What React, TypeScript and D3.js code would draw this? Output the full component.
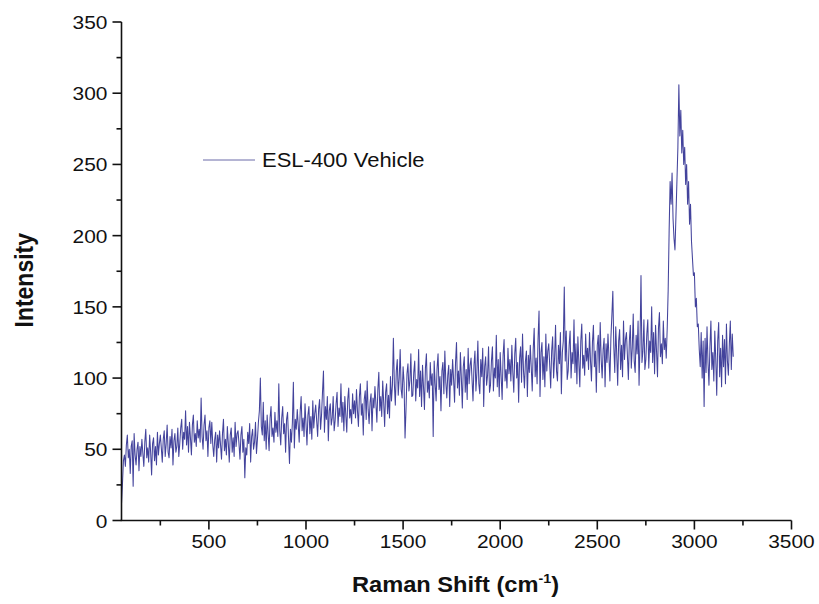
import React from "react";
import * as d3 from "d3";

// Raman spectrum sampled every 5 cm-1 starting at 50 cm-1
const shiftStart = 50;
const shiftStep = 5;
const intensity: number[] = [
  // 50-145
  12, 26, 42, 46, 38, 53, 60, 44, 50, 33, 52, 56, 24, 61, 46, 39, 50, 55, 35, 52,
  // 150-245
  45, 57, 47, 38, 55, 64, 44, 51, 41, 60, 48, 32, 54, 58, 42, 52, 39, 62, 46, 54,
  // 250-345
  60, 51, 41, 57, 63, 45, 54, 67, 48, 44, 59, 51, 64, 39, 56, 61, 48, 52, 65, 45,
  // 350-445
  54, 65, 71, 50, 62, 57, 77, 53, 66, 48, 69, 58, 46, 67, 74, 55, 61, 52, 70, 58,
  // 450-545
  64, 55, 86, 59, 50, 67, 74, 56, 63, 45, 65, 70, 54, 69, 53, 45, 57, 62, 41, 60,
  // 550-645
  51, 63, 53, 43, 61, 71, 49, 57, 46, 66, 54, 41, 60, 65, 48, 58, 45, 69, 52, 61,
  // 650-745
  63, 54, 43, 60, 66, 48, 57, 30, 51, 46, 62, 54, 68, 41, 59, 64, 50, 55, 69, 47,
  // 750-845
  57, 69, 77, 100, 66, 60, 83, 56, 70, 50, 74, 61, 49, 72, 80, 59, 65, 55, 76, 62,
  // 850-945
  70, 59, 96, 63, 53, 72, 80, 61, 68, 48, 71, 76, 58, 40, 64, 55, 69, 97, 51, 71,
  // 950-1045
  64, 78, 67, 55, 76, 87, 63, 72, 59, 82, 68, 53, 74, 80, 61, 73, 57, 84, 65, 75,
  // 1050-1145
  81, 70, 59, 78, 85, 64, 74, 90, 105, 62, 80, 71, 87, 56, 77, 82, 67, 72, 87, 63,
  // 1150-1245
  70, 82, 90, 66, 79, 73, 96, 69, 83, 63, 87, 74, 62, 85, 93, 72, 78, 68, 89, 75,
  // 1250-1345
  84, 72, 92, 77, 66, 87, 96, 74, 82, 60, 85, 91, 71, 98, 78, 68, 83, 89, 63, 86,
  // 1350-1445
  79, 94, 82, 69, 92, 104, 77, 87, 73, 98, 83, 66, 90, 96, 75, 88, 72, 101, 84, 95,
  // 1450-1545
  128, 96, 81, 105, 113, 88, 100, 120, 92, 86, 108, 97, 58, 78, 103, 110, 91, 98, 117, 87,
  // 1550-1645
  88, 104, 112, 84, 99, 93, 120, 87, 105, 80, 109, 94, 78, 107, 117, 90, 98, 86, 111, 95,
  // 1650-1745
  103, 59, 112, 96, 84, 107, 117, 92, 101, 77, 105, 111, 89, 119, 97, 86, 102, 109, 80, 106,
  // 1750-1845
  95, 113, 99, 83, 111, 125, 93, 105, 88, 118, 100, 79, 108, 115, 90, 106, 85, 121, 96, 109,
  // 1850-1945
  114, 99, 84, 109, 119, 91, 104, 126, 96, 89, 113, 101, 121, 80, 108, 115, 95, 102, 122, 90,
  // 1950-2045
  95, 112, 122, 91, 107, 100, 130, 94, 113, 87, 118, 101, 85, 116, 127, 98, 106, 93, 121, 103,
  // 2050-2145
  113, 98, 123, 104, 90, 117, 128, 100, 111, 83, 114, 122, 97, 131, 105, 93, 112, 119, 87, 116,
  // 2150-2245
  104, 123, 107, 91, 120, 135, 101, 114, 96, 128, 147, 87, 118, 125, 99, 115, 94, 131, 105, 119,
  // 2250-2345
  124, 109, 93, 119, 129, 100, 114, 137, 105, 98, 123, 110, 132, 89, 118, 126, 164, 112, 133, 99,
  // 2350-2445
  105, 123, 133, 100, 118, 110, 141, 104, 124, 96, 129, 111, 94, 126, 138, 107, 116, 102, 131, 112,
  // 2450-2545
  121, 106, 132, 112, 98, 125, 137, 108, 119, 90, 123, 130, 104, 139, 113, 100, 120, 128, 94, 124,
  // 2550-2645
  111, 131, 115, 98, 128, 144, 161, 122, 104, 136, 117, 95, 126, 134, 106, 123, 101, 140, 113, 127,
  // 2650-2745
  132, 116, 99, 126, 137, 107, 121, 145, 112, 104, 130, 117, 140, 95, 125, 172, 111, 119, 141, 106,
  // 2750-2845
  113, 131, 141, 107, 126, 118, 150, 111, 132, 103, 137, 119, 101, 135, 146, 115, 124, 110, 140, 120,
  // 2850-2945 (C-H stretching band)
  128, 114, 135, 162, 204, 238, 222, 244, 212, 198, 190, 214, 238, 262, 306, 270, 288, 258, 274, 250,
  // 2950-3045
  262, 236, 250, 222, 238, 208, 222, 196, 184, 172, 174, 150, 156, 136, 138, 120, 108, 132, 100, 126,
  // 3050-3145
  80, 128, 104, 136, 111, 95, 122, 140, 106, 118, 98, 133, 113, 88, 126, 139, 101, 121, 94, 130,
  // 3150-3200
  108, 127, 96, 138, 112, 102, 124, 140, 106, 131, 115,
];

const xMajorTicks = [500, 1000, 1500, 2000, 2500, 3000, 3500];
const xMinorTicks = [250, 750, 1250, 1750, 2250, 2750, 3250];
const yMajorTicks = [0, 50, 100, 150, 200, 250, 300, 350];
const yMinorTicks = [25, 75, 125, 175, 225, 275, 325];

const seriesName = "ESL-400 Vehicle";

const W = 819;
const H = 604;
const left = 121.5;
const right = 791.5;
const top = 22;
const bottom = 520.5;
const FONT = "Arial, 'Liberation Sans', Helvetica, sans-serif";
const STRETCH = 1.1;

export default function App() {
  const x = d3.scaleLinear().domain([50, 3500]).range([left, right]);
  const y = d3.scaleLinear().domain([0, 350]).range([bottom, top]);

  const pts: [number, number][] = intensity.map((v, i) => [shiftStart + i * shiftStep, v]);
  const path = d3
    .line<[number, number]>()
    .x((d) => x(d[0]))
    .y((d) => y(d[1]))(pts) as string;

  return (
    <svg
      width={W}
      height={H}
      viewBox={`0 0 ${W} ${H}`}
      style={{ position: "absolute", left: 0, top: 0, background: "#fff" }}
    >
      <rect width={W} height={H} fill="#fff" />
      {/* spectrum trace */}
      <path
        d={path}
        fill="none"
        stroke="#1a1a86"
        strokeOpacity={0.82}
        strokeWidth={1.05}
        strokeLinejoin="round"
      />

      {/* axes */}
      <g stroke="#111" strokeWidth={1.6} fill="none">
        <line x1={left} y1={top} x2={left} y2={bottom} />
        <line x1={left - 0.8} y1={bottom} x2={right} y2={bottom} />
        {xMajorTicks.map((t) => (
          <line key={`xm${t}`} x1={x(t)} x2={x(t)} y1={bottom} y2={bottom + 9} />
        ))}
        {xMinorTicks.map((t) => (
          <line key={`xn${t}`} x1={x(t)} x2={x(t)} y1={bottom} y2={bottom + 5} />
        ))}
        {yMajorTicks.map((t) => (
          <line key={`ym${t}`} x1={left - 9} x2={left} y1={y(t)} y2={y(t)} />
        ))}
        {yMinorTicks.map((t) => (
          <line key={`yn${t}`} x1={left - 5} x2={left} y1={y(t)} y2={y(t)} />
        ))}
      </g>

      {/* tick labels */}
      <g fontFamily={FONT} fontSize={19} fill="#111">
        {xMajorTicks.map((t) => (
          <text
            key={`xl${t}`}
            transform={`translate(${x(t)},${bottom + 27}) scale(${STRETCH},1)`}
            textAnchor="middle"
          >
            {t}
          </text>
        ))}
        {yMajorTicks.map((t) => (
          <text
            key={`yl${t}`}
            transform={`translate(${left - 14},${y(t) + 7}) scale(${STRETCH},1)`}
            textAnchor="end"
          >
            {t}
          </text>
        ))}
      </g>

      {/* axis titles */}
      <text
        transform={`translate(${(left + right) / 2 - 1},${H - 12}) scale(${STRETCH},1)`}
        textAnchor="middle"
        fontFamily={FONT}
        fontSize={21.5}
        fontWeight="bold"
        fill="#111"
      >
        Raman Shift (cm
        <tspan fontSize={13} dy={-9}>-1</tspan>
        <tspan dy={9}>)</tspan>
      </text>
      <text
        transform={`translate(33,${(top + bottom) / 2 + 9}) rotate(-90) scale(1,${STRETCH})`}
        textAnchor="middle"
        fontFamily={FONT}
        fontSize={23}
        fontWeight="bold"
        fill="#111"
      >
        Intensity
      </text>

      {/* legend */}
      <line x1={203} x2={255} y1={160} y2={160} stroke="#6a6aa8" strokeWidth={1} />
      <text
        transform={`translate(262,167) scale(${STRETCH},1)`}
        fontFamily={FONT}
        fontSize={20}
        fill="#111"
      >
        {seriesName}
      </text>
    </svg>
  );
}
